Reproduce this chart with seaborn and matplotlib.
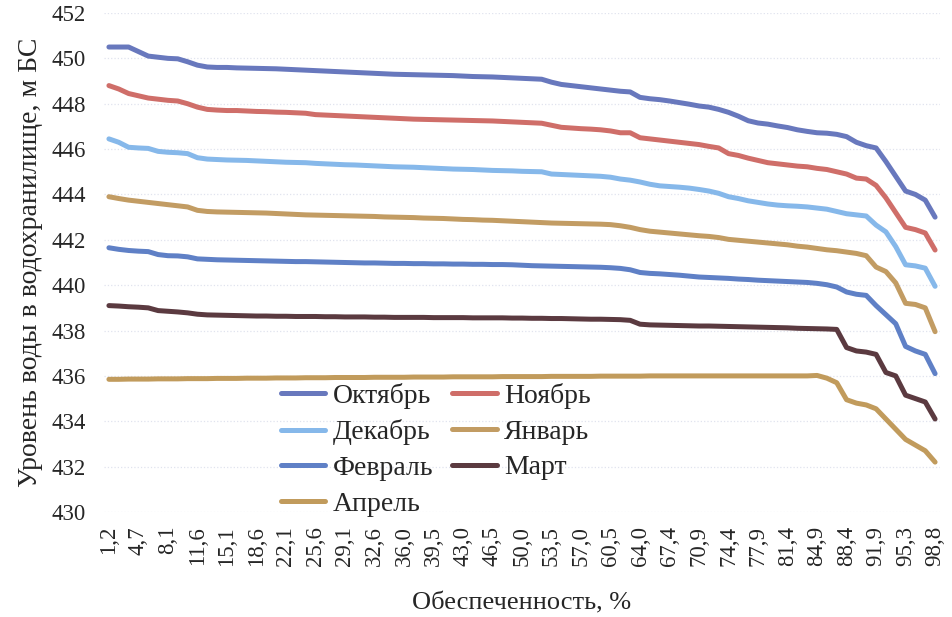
import pandas as pd
import matplotlib
matplotlib.use("Agg")
import matplotlib.pyplot as plt
import seaborn as sns

# Обеспеченность, % (85 категорий)
probability = [
    1.2, 2.3, 3.5, 4.7, 5.8, 7.0, 8.1, 9.3, 10.5, 11.6,
    12.8, 14.0, 15.1, 16.3, 17.4, 18.6, 19.8, 20.9, 22.1, 23.3,
    24.4, 25.6, 26.7, 27.9, 29.1, 30.2, 31.4, 32.6, 33.7, 34.9,
    36.0, 37.2, 38.4, 39.5, 40.7, 41.9, 43.0, 44.2, 45.3, 46.5,
    47.7, 48.8, 50.0, 51.2, 52.3, 53.5, 54.7, 55.8, 57.0, 58.1,
    59.3, 60.5, 61.6, 62.8, 64.0, 65.1, 66.3, 67.4, 68.6, 69.8,
    70.9, 72.1, 73.3, 74.4, 75.6, 76.7, 77.9, 79.1, 80.2, 81.4,
    82.6, 83.7, 84.9, 86.0, 87.2, 88.4, 89.5, 90.7, 91.9, 93.0,
    94.2, 95.3, 96.5, 97.7, 98.8,
]

oct_lvl = [
    450.5, 450.5, 450.5, 450.3, 450.1, 450.05, 450.0, 449.98, 449.85, 449.7,
    449.62, 449.6, 449.6, 449.58, 449.57, 449.56, 449.55, 449.54, 449.52, 449.5,
    449.48, 449.46, 449.44, 449.42, 449.4, 449.38, 449.36, 449.34, 449.32, 449.3,
    449.29, 449.28, 449.27, 449.26, 449.25, 449.24, 449.22, 449.2, 449.19, 449.18,
    449.16, 449.14, 449.12, 449.1, 449.08, 448.95, 448.85, 448.8, 448.75, 448.7,
    448.65, 448.6, 448.55, 448.52, 448.28, 448.22, 448.18, 448.12, 448.05, 447.98,
    447.9, 447.85, 447.75, 447.62, 447.45, 447.25, 447.15, 447.1, 447.02, 446.95,
    446.85, 446.78, 446.72, 446.7, 446.65, 446.55, 446.3, 446.15, 446.05, 445.45,
    444.8, 444.15, 444.0, 443.75, 443.0,
]
nov_lvl = [
    448.8, 448.65, 448.45, 448.35, 448.25, 448.2, 448.15, 448.12, 448.0, 447.85,
    447.75, 447.72, 447.7, 447.7, 447.68, 447.66, 447.65, 447.63, 447.62, 447.6,
    447.58, 447.52, 447.5, 447.48, 447.46, 447.44, 447.42, 447.4, 447.38, 447.36,
    447.34, 447.32, 447.31, 447.3, 447.29, 447.28, 447.27, 447.26, 447.25, 447.24,
    447.22, 447.2, 447.18, 447.16, 447.14, 447.05, 446.96, 446.93, 446.9, 446.88,
    446.85, 446.8, 446.72, 446.72, 446.5, 446.45, 446.4, 446.35, 446.3, 446.25,
    446.2, 446.12, 446.05, 445.8, 445.72, 445.6, 445.5, 445.4, 445.35, 445.3,
    445.25, 445.22, 445.15, 445.1, 445.0, 444.9, 444.72, 444.68, 444.4, 443.85,
    443.2, 442.55, 442.45, 442.3, 441.55,
]
dec_lvl = [
    446.45, 446.3, 446.08, 446.05, 446.03, 445.9, 445.86, 445.84, 445.8, 445.62,
    445.56, 445.54, 445.52, 445.51, 445.5, 445.48, 445.46, 445.44, 445.42, 445.41,
    445.4, 445.37, 445.35, 445.33, 445.31, 445.3, 445.28, 445.26, 445.24, 445.22,
    445.21, 445.2, 445.18, 445.16, 445.14, 445.12, 445.11, 445.1, 445.08, 445.06,
    445.05, 445.04, 445.02, 445.01, 445.0, 444.9, 444.88, 444.86, 444.84, 444.82,
    444.8, 444.76, 444.68, 444.63, 444.55, 444.45, 444.38, 444.35, 444.32, 444.28,
    444.22, 444.15, 444.05, 443.9, 443.82, 443.72, 443.65, 443.58, 443.53, 443.5,
    443.48, 443.45, 443.4, 443.35, 443.25, 443.15, 443.1, 443.05, 442.65, 442.35,
    441.7, 440.9, 440.85, 440.75, 439.95,
]
jan_lvl = [
    443.9, 443.82, 443.75, 443.7, 443.65, 443.6, 443.55, 443.5, 443.45, 443.3,
    443.25, 443.23, 443.22, 443.21, 443.2, 443.19, 443.18, 443.16, 443.14, 443.12,
    443.1, 443.09, 443.08, 443.07, 443.06, 443.05, 443.04, 443.03, 443.01, 443.0,
    442.99, 442.98, 442.96, 442.95, 442.94, 442.92, 442.9, 442.89, 442.87, 442.86,
    442.84, 442.82, 442.8, 442.78, 442.76, 442.74, 442.73, 442.72, 442.71, 442.7,
    442.69, 442.67, 442.62, 442.55, 442.45, 442.38, 442.34, 442.3, 442.26, 442.22,
    442.18, 442.15, 442.1, 442.02, 441.98, 441.94, 441.9, 441.86, 441.82, 441.78,
    441.72, 441.68, 441.62, 441.56, 441.52, 441.46, 441.4, 441.3, 440.8, 440.6,
    440.1, 439.2, 439.15, 439.0, 437.95,
]
feb_lvl = [
    441.65, 441.58, 441.53, 441.5, 441.48, 441.35, 441.3, 441.29, 441.25, 441.16,
    441.14, 441.12, 441.11, 441.1, 441.09, 441.08, 441.07, 441.06, 441.05, 441.04,
    441.04, 441.03, 441.02, 441.01, 441.0, 440.99, 440.98, 440.98, 440.97, 440.96,
    440.96, 440.95, 440.95, 440.94, 440.94, 440.93, 440.93, 440.92, 440.92, 440.91,
    440.91, 440.9, 440.88, 440.86, 440.85, 440.84, 440.83, 440.82, 440.81, 440.8,
    440.79, 440.77, 440.74, 440.68, 440.56, 440.52, 440.5, 440.47, 440.44, 440.4,
    440.36, 440.34, 440.32, 440.3, 440.27, 440.25, 440.22, 440.2, 440.18, 440.16,
    440.14, 440.12, 440.08, 440.02, 439.92, 439.7, 439.6, 439.55, 439.1, 438.7,
    438.3, 437.3, 437.1, 436.95, 436.1,
]
mar_lvl = [
    439.1, 439.08, 439.05, 439.03, 439.0, 438.88, 438.85, 438.82, 438.78, 438.72,
    438.69, 438.68, 438.67, 438.66, 438.65, 438.64, 438.64, 438.63, 438.63, 438.62,
    438.62, 438.62, 438.61, 438.61, 438.6, 438.6, 438.6, 438.59, 438.59, 438.58,
    438.58, 438.58, 438.58, 438.57, 438.57, 438.57, 438.57, 438.56, 438.56, 438.56,
    438.56, 438.55, 438.55, 438.54, 438.54, 438.53, 438.53, 438.52, 438.51, 438.5,
    438.5, 438.49, 438.48, 438.45, 438.28, 438.25, 438.24, 438.23, 438.22, 438.21,
    438.2, 438.2, 438.19, 438.18, 438.17, 438.16, 438.15, 438.14, 438.13, 438.12,
    438.1, 438.09, 438.08, 438.07, 438.05, 437.25, 437.1, 437.05, 436.95, 436.15,
    436.0, 435.15, 435.0, 434.85, 434.1,
]
apr_lvl = [
    435.85, 435.85, 435.86, 435.86, 435.86, 435.87, 435.87, 435.87, 435.88, 435.88,
    435.88, 435.89, 435.89, 435.89, 435.9, 435.9, 435.9, 435.91, 435.91, 435.91,
    435.92, 435.92, 435.92, 435.93, 435.93, 435.93, 435.93, 435.94, 435.94, 435.94,
    435.94, 435.95, 435.95, 435.95, 435.95, 435.96, 435.96, 435.96, 435.96, 435.96,
    435.97, 435.97, 435.97, 435.97, 435.97, 435.98, 435.98, 435.98, 435.98, 435.98,
    435.99, 435.99, 435.99, 435.99, 435.99, 436.0, 436.0, 436.0, 436.0, 436.0,
    436.0, 436.0, 436.0, 436.0, 436.0, 436.0, 436.0, 436.0, 436.0, 436.0,
    436.0, 436.0, 436.02, 435.9, 435.7, 434.95, 434.8, 434.72, 434.55, 434.1,
    433.65, 433.2, 432.95, 432.7, 432.2,
]

months = ['Октябрь', 'Ноябрь', 'Декабрь', 'Январь', 'Февраль', 'Март', 'Апрель']
levels = [oct_lvl, nov_lvl, dec_lvl, jan_lvl, feb_lvl, mar_lvl, apr_lvl]
colors = ['#6878bd', '#cf6e69', '#86b8ea', '#c29c63', '#5f80c6', '#5b3a40', '#c19b5c']

rows = []
for name, vals in zip(months, levels):
    for i, v in enumerate(vals):
        rows.append({'idx': i, 'level': v, 'month': name})
df = pd.DataFrame(rows)

sns.set_style('white')
plt.rcParams['font.family'] = ['Liberation Serif', 'DejaVu Serif']

fig = plt.figure(figsize=(9.52, 6.17), dpi=100)
ax = fig.add_axes([104 / 952, 1 - 512 / 617, 836 / 952, 499 / 617])

sns.lineplot(data=df, x='idx', y='level', hue='month', hue_order=months,
             palette=dict(zip(months, colors)), linewidth=3.6, ax=ax, legend=False)

ax.set_xlim(-0.5, len(probability) - 0.5)
ax.set_ylim(430, 452)
ax.set_yticks(range(430, 453, 2))
ax.tick_params(axis='y', labelsize=16.5, length=0, pad=13)
tick_idx = list(range(0, len(probability), 3))
ax.set_xticks(tick_idx)
ax.set_xticklabels([f"{probability[i]:.1f}".replace('.', ',') for i in tick_idx],
                   rotation=90, fontsize=16.5)
ax.tick_params(axis='x', length=0, pad=10)
ax.yaxis.grid(True, color='#e0e3ee', linestyle=':', linewidth=0.9)
ax.xaxis.grid(False)
for s in ax.spines.values():
    s.set_visible(False)

ax.set_xlabel('Обеспеченность, %', fontsize=19, labelpad=19)
ax.set_ylabel('Уровень воды в водохранилище, м БС', fontsize=20, labelpad=6)

# легенда: порядок по строкам, как в оригинале
handles = ax.get_lines()[:len(months)]
order = [0, 2, 4, 6, 1, 3, 5]
leg = fig.legend([handles[k] for k in order], [months[k] for k in order],
                 ncol=2, loc='upper left', bbox_to_anchor=(281 / 952, 1 - 383 / 617),
                 frameon=False, fontsize=20, handlelength=1.6, handletextpad=0.25,
                 columnspacing=0.7, labelspacing=0.37, borderpad=0, borderaxespad=0)

fig.savefig('out.png', dpi=100)
